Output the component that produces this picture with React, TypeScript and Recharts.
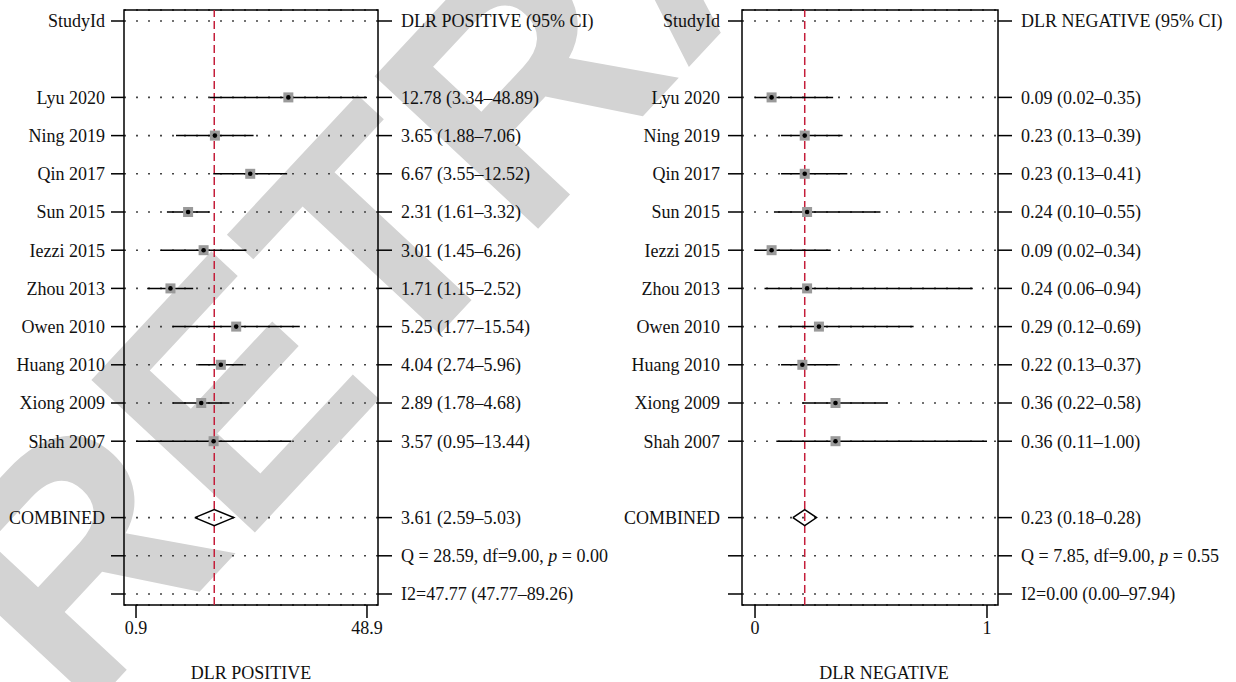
import React from "react";
import {
  ComposedChart,
  Scatter,
  ErrorBar,
  XAxis,
  YAxis,
  CartesianGrid,
  ReferenceLine,
  ReferenceArea,
  Label,
} from "recharts";

const FONT = '"Liberation Serif", "Times New Roman", serif';
const FS = 18;

const studies = [
  "Lyu 2020",
  "Ning 2019",
  "Qin 2017",
  "Sun 2015",
  "Iezzi 2015",
  "Zhou 2013",
  "Owen 2010",
  "Huang 2010",
  "Xiong 2009",
  "Shah 2007",
];

// DLR positive
const posEst = [12.78, 3.65, 6.67, 2.31, 3.01, 1.71, 5.25, 4.04, 2.89, 3.57];
const posLow = [3.34, 1.88, 3.55, 1.61, 1.45, 1.15, 1.77, 2.74, 1.78, 0.95];
const posHigh = [48.89, 7.06, 12.52, 3.32, 6.26, 2.52, 15.54, 5.96, 4.68, 13.44];
const posCombined = [3.61, 2.59, 5.03];
const posHet = ["28.59", "9.00", "0.00"]; // Q, df, p
const posI2 = ["47.77", "47.77", "89.26"];
const posTicks = [0.95, 48.89];

// DLR negative
const negEst = [0.09, 0.23, 0.23, 0.24, 0.09, 0.24, 0.29, 0.22, 0.36, 0.36];
const negLow = [0.02, 0.13, 0.13, 0.1, 0.02, 0.06, 0.12, 0.13, 0.22, 0.11];
const negHigh = [0.35, 0.39, 0.41, 0.55, 0.34, 0.94, 0.69, 0.37, 0.58, 1.0];
const negCombined = [0.23, 0.18, 0.28];
const negHet = ["7.85", "9.00", "0.55"];
const negI2 = ["0.00", "0.00", "97.94"];
const negTicks = [0.02, 1.0];

// row slots: header, studies, pooled estimate, heterogeneity lines
const HEADER_ROW = 0;
const studyRows = [2, 3, 4, 5, 6, 7, 8, 9, 10, 11];
const COMBINED_ROW = 13;
const Q_ROW = 14;
const I2_ROW = 15;
const rowTicks = [HEADER_ROW, ...studyRows, COMBINED_ROW, Q_ROW, I2_ROW];
const Y_DOMAIN: [number, number] = [-0.288, 15.288];

type Segment = { text: string; italic?: boolean };

const f2 = (v: number) => v.toFixed(2);

function leftLabel(row: number) {
  if (row === HEADER_ROW) return "StudyId";
  if (row === COMBINED_ROW) return "COMBINED";
  const i = studyRows.indexOf(row);
  return i >= 0 ? studies[i] : "";
}

type PanelProps = {
  title: string;
  axisTitle: string;
  est: number[];
  low: number[];
  high: number[];
  combined: number[];
  het: string[];
  i2: string[];
  scale: "log" | "linear";
  domain: [number, number];
  ticks: number[];
  tickDigits: number;
  rightWidth: number;
  tickSize: number;
  tickGap: number;
  titleShift: number;
};

function rightSegments(p: PanelProps, row: number): Segment[] {
  if (row === HEADER_ROW) return [{ text: p.title }];
  if (row === COMBINED_ROW) {
    const [e, l, h] = p.combined;
    return [{ text: `${f2(e)} (${f2(l)}–${f2(h)})` }];
  }
  if (row === Q_ROW) {
    return [
      { text: `Q = ${p.het[0]}, df=${p.het[1]}, ` },
      { text: "p", italic: true },
      { text: ` = ${p.het[2]}` },
    ];
  }
  if (row === I2_ROW) {
    return [{ text: `I2=${p.i2[0]} (${p.i2[1]}–${p.i2[2]})` }];
  }
  const i = studyRows.indexOf(row);
  if (i < 0) return [];
  return [{ text: `${f2(p.est[i])} (${f2(p.low[i])}–${f2(p.high[i])})` }];
}

function StudyMarker(props: any) {
  const { cx, cy } = props;
  if (cx == null || cy == null) return null;
  return (
    <g>
      <rect x={cx - 5} y={cy - 5} width={10} height={10} fill="#9a9a9a" />
      <circle cx={cx} cy={cy} r={2.3} fill="#000" />
    </g>
  );
}

const NoMarker = () => <g />;

function ForestPanel(p: PanelProps) {
  const points = p.est.map((e, i) => ({
    x: e,
    y: studyRows[i],
    ci: [e - p.low[i], p.high[i] - e],
  }));
  const [cEst, cLow, cHigh] = p.combined;
  const half = 0.21;
  const diamond = [
    { x: cLow, y: COMBINED_ROW },
    { x: cEst, y: COMBINED_ROW - half },
    { x: cHigh, y: COMBINED_ROW },
    { x: cEst, y: COMBINED_ROW + half },
    { x: cLow, y: COMBINED_ROW },
  ];

  const renderRightTick = (t: any) => {
    const segs = rightSegments(p, t.payload.value);
    return (
      <text
        x={t.x}
        y={t.y}
        dy="0.355em"
        textAnchor="start"
        fontFamily={FONT}
        fontSize={FS}
        fill="#111"
      >
        {segs.map((s, k) => (
          <tspan key={k} fontStyle={s.italic ? "italic" : "normal"}>
            {s.text}
          </tspan>
        ))}
      </text>
    );
  };

  const tickStyle = { fill: "#111", fontFamily: FONT, fontSize: FS };
  const lineStyle = { stroke: "#000", strokeWidth: 1.5 };

  return (
    <ComposedChart
      width={618}
      height={682}
      margin={{ top: 10, right: 0, bottom: 0, left: 0 }}
    >
      <CartesianGrid
        vertical={false}
        stroke="#444"
        strokeWidth={1.6}
        strokeDasharray="2 10"
      />
      <XAxis
        dataKey="x"
        type="number"
        scale={p.scale}
        domain={p.domain}
        allowDataOverflow
        ticks={p.ticks}
        interval={0}
        tickFormatter={(v: number) => v.toFixed(p.tickDigits)}
        height={77}
        axisLine={false}
        tickSize={13}
        tickMargin={3}
        tickLine={lineStyle}
        tick={tickStyle}
      >
        <Label
          value={p.axisTitle}
          position="insideBottom"
          offset={3}
          dx={p.titleShift}
          style={{ fill: "#111", fontFamily: FONT, fontSize: FS }}
        />
      </XAxis>
      <YAxis
        yAxisId={0}
        dataKey="y"
        type="number"
        reversed
        domain={Y_DOMAIN}
        allowDataOverflow
        ticks={rowTicks}
        interval={0}
        width={124}
        axisLine={false}
        tickSize={p.tickSize}
        tickMargin={p.tickGap}
        tickLine={lineStyle}
        tick={tickStyle}
        tickFormatter={leftLabel}
      />
      <YAxis
        yAxisId="right"
        orientation="right"
        type="number"
        reversed
        domain={Y_DOMAIN}
        allowDataOverflow
        ticks={rowTicks}
        interval={0}
        width={p.rightWidth}
        axisLine={false}
        tickSize={14}
        tickMargin={9}
        tickLine={lineStyle}
        tick={renderRightTick}
      />
      <ReferenceLine
        x={cEst}
        stroke="#c41e3a"
        strokeWidth={1.5}
        strokeDasharray="8 4"
      />
      <Scatter
        data={points}
        shape={StudyMarker}
        isAnimationActive={false}
      >
        <ErrorBar
          dataKey="ci"
          direction="x"
          width={0}
          stroke="#000"
          strokeWidth={1.5}
          isAnimationActive={false}
        />
      </Scatter>
      <Scatter
        data={diamond}
        shape={NoMarker}
        line={{ stroke: "#000", strokeWidth: 1.5 }}
        isAnimationActive={false}
      />
      <ReferenceArea
        x1={p.domain[0]}
        x2={p.domain[1]}
        y1={Y_DOMAIN[0]}
        y2={Y_DOMAIN[1]}
        fill="none"
        stroke="#000"
        strokeWidth={1.5}
        ifOverflow="visible"
      />
    </ComposedChart>
  );
}

function Watermark() {
  return (
    <svg
      width={1236}
      height={682}
      style={{ position: "absolute", left: 0, top: 0 }}
    >
      <text
        x={80}
        y={720}
        transform="rotate(-47 80 720)"
        fontFamily='"Liberation Sans", Arial, sans-serif'
        fontWeight={700}
        fontSize={325}
        fill="#d3d3d3"
      >
        RETRACTED
      </text>
    </svg>
  );
}

export default function App() {
  return (
    <div
      style={{
        position: "absolute",
        left: 0,
        top: 0,
        width: 1236,
        height: 682,
        background: "#fff",
        overflow: "hidden",
      }}
    >
      <Watermark />
      <div style={{ position: "absolute", left: 0, top: 0 }}>
        <ForestPanel
          title="DLR POSITIVE (95% CI)"
          axisTitle="DLR POSITIVE"
          est={posEst}
          low={posLow}
          high={posHigh}
          combined={posCombined}
          het={posHet}
          i2={posI2}
          scale="log"
          domain={[0.774, 59.0]}
          ticks={posTicks}
          tickDigits={1}
          rightWidth={240}
          tickSize={13}
          tickGap={6}
          titleShift={0}
        />
      </div>
      <div style={{ position: "absolute", left: 618, top: 0 }}>
        <ForestPanel
          title="DLR NEGATIVE (95% CI)"
          axisTitle="DLR NEGATIVE"
          est={negEst}
          low={negLow}
          high={negHigh}
          combined={negCombined}
          het={negHet}
          i2={negI2}
          scale="linear"
          domain={[-0.035, 1.0465]}
          ticks={negTicks}
          tickDigits={0}
          rightWidth={238}
          tickSize={14}
          tickGap={8}
          titleShift={14}
        />
      </div>
    </div>
  );
}
